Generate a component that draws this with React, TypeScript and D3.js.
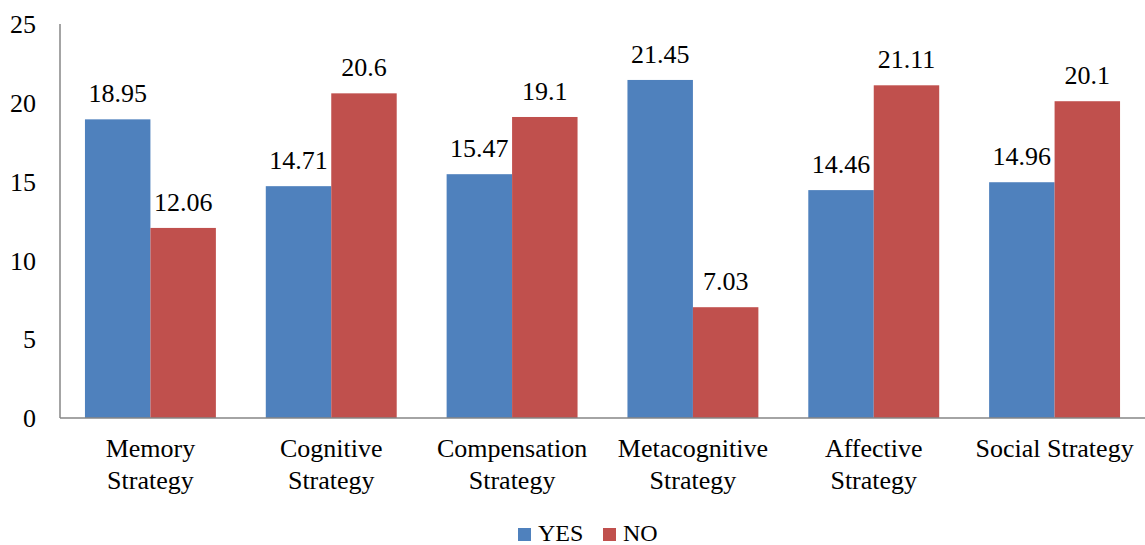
import React, { useEffect, useRef } from "react";
import * as d3 from "d3";

const categories = [
  ["Memory", "Strategy"],
  ["Cognitive", "Strategy"],
  ["Compensation", "Strategy"],
  ["Metacognitive", "Strategy"],
  ["Affective", "Strategy"],
  ["Social Strategy"],
];
const seriesNames = ["YES", "NO"];
const yesValues = [18.95, 14.71, 15.47, 21.45, 14.46, 14.96];
const noValues = [12.06, 20.6, 19.1, 7.03, 21.11, 20.1];
const yTicks = [0, 5, 10, 15, 20, 25];
const colors = ["#4f81bd", "#c0504d"];

const W = 1145;
const H = 545;
const font = "'Liberation Serif', 'Times New Roman', serif";

export default function App() {
  const svgRef = useRef<SVGSVGElement>(null);

  useEffect(() => {
    if (!svgRef.current) return;
    const svg = d3.select(svgRef.current);
    svg.selectAll("*").remove();

    const margin = { top: 24, right: 0, bottom: 127, left: 60 };
    const chartWidth = W - margin.left - margin.right;
    const chartHeight = H - margin.top - margin.bottom;

    const g = svg
      .append("g")
      .attr("transform", `translate(${margin.left},${margin.top})`);

    const x0 = d3
      .scaleBand<number>()
      .domain(categories.map((_, i) => i))
      .range([0, chartWidth])
      .paddingInner(0.276)
      .paddingOuter(0.138);

    const x1 = d3
      .scaleBand<number>()
      .domain([0, 1])
      .range([0, x0.bandwidth()]);

    const y = d3.scaleLinear().domain([0, 25]).range([chartHeight, 0]);

    // y tick labels
    g.selectAll("text.ytick")
      .data(yTicks)
      .enter()
      .append("text")
      .attr("class", "ytick")
      .attr("x", -24)
      .attr("y", (d) => y(d))
      .attr("dy", "0.35em")
      .attr("text-anchor", "end")
      .style("font-family", font)
      .style("font-size", "26px")
      .text((d) => d);

    const rows = categories.map((c, i) => ({
      i,
      vals: [yesValues[i], noValues[i]],
    }));

    const groups = g
      .selectAll("g.cat")
      .data(rows)
      .enter()
      .append("g")
      .attr("class", "cat")
      .attr("transform", (d) => `translate(${x0(d.i)},0)`);

    groups
      .selectAll("rect")
      .data((d) => d.vals.map((v, s) => ({ v, s })))
      .enter()
      .append("rect")
      .attr("x", (d) => x1(d.s)!)
      .attr("y", (d) => y(d.v))
      .attr("width", x1.bandwidth())
      .attr("height", (d) => chartHeight - y(d.v))
      .attr("fill", (d) => colors[d.s]);

    groups
      .selectAll("text.val")
      .data((d) => d.vals.map((v, s) => ({ v, s })))
      .enter()
      .append("text")
      .attr("class", "val")
      .attr("x", (d) => x1(d.s)! + x1.bandwidth() / 2)
      .attr("y", (d) => y(d.v) - 17)
      .attr("text-anchor", "middle")
      .style("font-family", font)
      .style("font-size", "26px")
      .text((d) => d.v);

    // axes lines
    g.append("line")
      .attr("x1", 0)
      .attr("x2", 0)
      .attr("y1", 0)
      .attr("y2", chartHeight)
      .attr("stroke", "#868686")
      .attr("stroke-width", 1.5);
    g.append("line")
      .attr("x1", 0)
      .attr("x2", chartWidth)
      .attr("y1", chartHeight)
      .attr("y2", chartHeight)
      .attr("stroke", "#868686")
      .attr("stroke-width", 1.5);

    // category labels
    const cl = g
      .selectAll("text.cat")
      .data(categories)
      .enter()
      .append("text")
      .attr("class", "cat")
      .attr("text-anchor", "middle")
      .attr("x", (_, i) => x0(i)! + x0.bandwidth() / 2)
      .attr("y", chartHeight + 39)
      .style("font-family", font)
      .style("font-size", "26px");
    cl.selectAll("tspan")
      .data((d) => d)
      .enter()
      .append("tspan")
      .attr("x", function () {
        return (this.parentNode as SVGTextElement).getAttribute("x");
      })
      .attr("dy", (_, j) => (j === 0 ? 0 : 32))
      .text((d) => d);

    // legend
    const legendX = [518, 603];
    const lg = svg
      .selectAll("g.legend")
      .data(seriesNames)
      .enter()
      .append("g")
      .attr("class", "legend")
      .attr("transform", (_, i) => `translate(${legendX[i]},528)`);
    lg.append("rect")
      .attr("width", 13)
      .attr("height", 13)
      .attr("fill", (_, i) => colors[i]);
    lg.append("text")
      .attr("x", 20)
      .attr("y", 13)
      .style("font-family", font)
      .style("font-size", "24px")
      .text((d) => d);
  }, []);

  return (
    <svg
      ref={svgRef}
      width={W}
      height={H}
      style={{ position: "absolute", left: 0, top: 0, background: "#fff" }}
    />
  );
}
